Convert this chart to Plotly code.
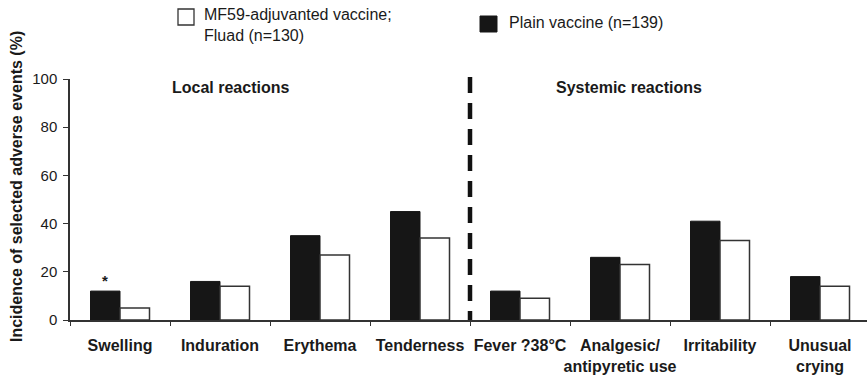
import plotly.graph_objects as go

# Adverse-event incidence (%) by reaction type
categories = ["Swelling", "Induration", "Erythema", "Tenderness",
              "Fever ?38°C", "Analgesic/<br>antipyretic use", "Irritability",
              "Unusual<br>crying"]
plain_vaccine = [12, 16, 35, 45, 12, 26, 41, 18]
fluad_vaccine = [5, 14, 27, 34, 9, 23, 33, 14]
y_ticks = [0, 20, 40, 60, 80, 100]

plain_label = "Plain vaccine (n=139)"
fluad_label = "MF59-adjuvanted vaccine;<br>Fluad (n=130)"
section_labels = ["Local reactions", "Systemic reactions"]
y_title = "Incidence of selected adverse events (%)"

FONT = "Liberation Sans, Arial, sans-serif"
INK = "#1a1a1a"
W, H = 867, 377
M_L, M_R, M_T, M_B = 70, 0, 79, 57

fig = go.Figure()
fig.add_trace(go.Bar(x=categories, y=plain_vaccine, name=plain_label,
                     marker=dict(color="#161616", line=dict(color="#161616", width=1))))
fig.add_trace(go.Bar(x=categories, y=fluad_vaccine, name=fluad_label,
                     marker=dict(color="white", line=dict(color="#333333", width=1.5))))

# Divider between local and systemic reactions (dash pattern starts at the top)
fig.add_shape(type="line", xref="x", yref="paper", x0=3.5, x1=3.5, y0=1.008, y1=0,
              line=dict(color="#111111", width=4.5, dash="16px,10px"), layer="above")

annotations = []
# Section headings
for label, xpos in zip(section_labels, [1.1, 5.09]):
    annotations.append(dict(x=xpos, y=96.3, xref="x", yref="y", text=label,
                            showarrow=False, xanchor="center", yanchor="middle",
                            font=dict(family=FONT, size=16, color=INK, weight="bold")))
# Significance marker over swelling
annotations.append(dict(x=categories[0], y=plain_vaccine[0], xref="x", yref="y",
                        text="*", showarrow=False, xshift=-15, yshift=11,
                        font=dict(family=FONT, size=15, color=INK, weight="bold")))
# Y-axis title
annotations.append(dict(x=0, y=(320 - 187) / 241, xref="paper", yref="paper",
                        text=y_title, textangle=-90, showarrow=False,
                        xanchor="center", yanchor="middle", xshift=-54,
                        font=dict(family=FONT, size=16, color=INK, weight="bold")))

# Legend drawn as swatches with labels
plot_w = W - M_L - M_R
plot_h = H - M_T - M_B
def px_x(px):
    return (px - M_L) / plot_w
def px_y(py):
    return (H - M_B - py) / plot_h

fig.add_shape(type="rect", xref="paper", yref="paper",
              x0=px_x(178), x1=px_x(194), y0=px_y(25), y1=px_y(9),
              line=dict(color="#333333", width=1.3), fillcolor="white")
fig.add_shape(type="rect", xref="paper", yref="paper",
              x0=px_x(480), x1=px_x(497), y0=px_y(32), y1=px_y(16),
              line=dict(color="#161616", width=1), fillcolor="#161616")
annotations.append(dict(x=px_x(202), y=px_y(25), xref="paper", yref="paper",
                        text=fluad_label, showarrow=False, xanchor="left",
                        yanchor="middle", align="left",
                        font=dict(family=FONT, size=16, color=INK)))
annotations.append(dict(x=px_x(507), y=px_y(23), xref="paper", yref="paper",
                        text=plain_label, showarrow=False, xanchor="left",
                        yanchor="middle", align="left",
                        font=dict(family=FONT, size=16, color=INK)))

fig.update_layout(
    width=W, height=H,
    margin=dict(l=M_L, r=M_R, t=M_T, b=M_B, autoexpand=False),
    paper_bgcolor="white", plot_bgcolor="white",
    barmode="group", bargap=0.41, bargroupgap=0,
    showlegend=False,
    annotations=annotations,
    xaxis=dict(type="category", range=[-0.5, 7.47], tickson="boundaries",
               ticks="outside", ticklen=4, tickcolor="#333333", tickwidth=1.3,
               showline=True, linecolor="#333333", linewidth=1.5,
               showgrid=False, zeroline=False, ticklabelstandoff=10,
               tickangle=0, automargin=False,
               tickfont=dict(family=FONT, size=16, color=INK, weight="bold")),
    yaxis=dict(range=[0, 100], tickvals=y_ticks, ticks="outside", ticklen=5,
               tickcolor="#333333", tickwidth=1.3,
               showline=True, linecolor="#333333", linewidth=1.5,
               showgrid=False, zeroline=False, ticklabelstandoff=3,
               automargin=False,
               tickfont=dict(family=FONT, size=15, color=INK)),
)

fig.write_html("out.html")
